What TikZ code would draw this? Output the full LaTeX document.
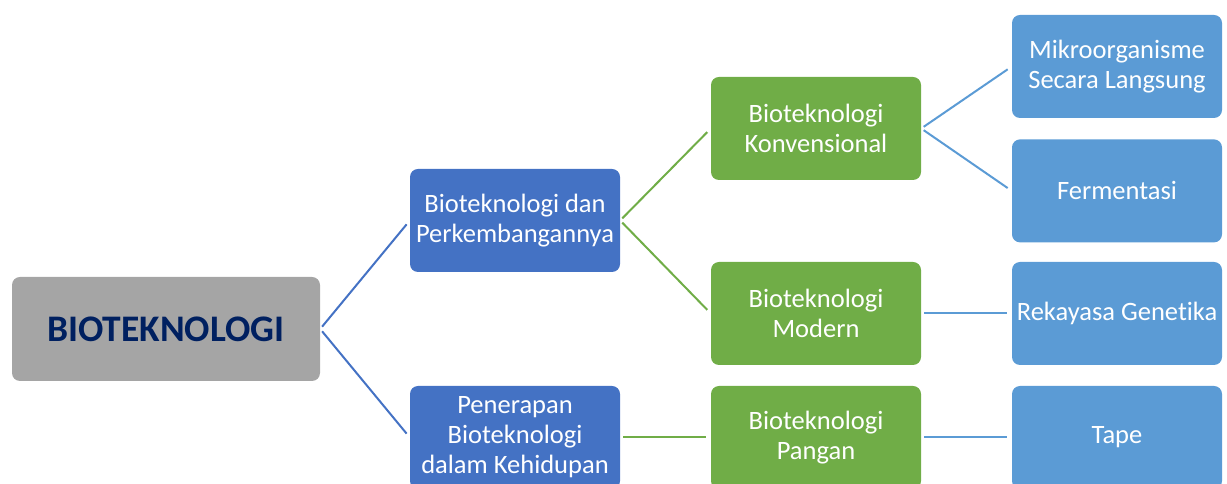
\documentclass[tikz,border=0pt]{standalone}
\usepackage{fontspec}
\setmainfont{Carlito}[Ligatures={NoCommon}]
\usetikzlibrary{positioning}
\definecolor{rootgray}{HTML}{A5A5A5}
\definecolor{rootnavy}{HTML}{002060}
\definecolor{midblue}{HTML}{4472C4}
\definecolor{leafgreen}{HTML}{70AD47}
\definecolor{skyblue}{HTML}{5B9BD5}
\begin{document}
\begin{tikzpicture}[x=1pt, y=1pt,
    box/.style={rectangle, rounded corners=8pt, minimum width=210pt,
      minimum height=103pt, inner sep=2pt, align=center, text=white,
      font=\fontsize{26.5}{30}\selectfont},
    bidang/.style={box, fill=midblue},
    jenis/.style={box, fill=leafgreen},
    contoh/.style={box, fill=skyblue},
    link/.style={line width=2pt, shorten <=3pt, shorten >=5pt}]

  \clip (0,0) rectangle (1227,484);
  \useasboundingbox (0,0) rectangle (1227,484);

  \node[box, fill=rootgray, minimum width=308pt, minimum height=104pt,
    text=rootnavy, font=\fontsize{37.5}{40}\selectfont\bfseries] (root) at (166,155) {BIOTEKNOLOGI};

  \node[bidang] (dan) at (515,263.5) {Bioteknologi dan\\Perkembangannya};
  \node[bidang] (terap) at (515,46.5) {Penerapan\\Bioteknologi\\dalam Kehidupan};

  \node[jenis] (konv) at (816,355.5) {Bioteknologi\\Konvensional};
  \node[jenis] (mod) at (816,170.5) {Bioteknologi\\Modern};
  \node[jenis] (pangan) at (816,46.5) {Bioteknologi\\Pangan};

  \node[contoh] (mikro) at (1117,417.5) {Mikroorganisme\\Secara Langsung};
  \node[contoh, below=21pt of mikro] (ferm) {Fermentasi};
  \node[contoh] (reka) at (1117,170.5) {Rekayasa Genetika};
  \node[contoh] (tape) at (1117,46.5) {Tape};

  \draw[link, midblue] (root.east) -- (dan.west);
  \draw[link, midblue] (root.east) -- (terap.west);
  \draw[link, leafgreen] (dan.east) -- (konv.west);
  \draw[link, leafgreen] (dan.east) -- (mod.west);
  \draw[link, leafgreen] (terap.east) -- (pangan.west);
  \draw[link, skyblue] (konv.east) -- (mikro.west);
  \draw[link, skyblue] (konv.east) -- (ferm.west);
  \draw[link, skyblue] (mod.east) -- (reka.west);
  \draw[link, skyblue] (pangan.east) -- (tape.west);
\end{tikzpicture}
\end{document}
